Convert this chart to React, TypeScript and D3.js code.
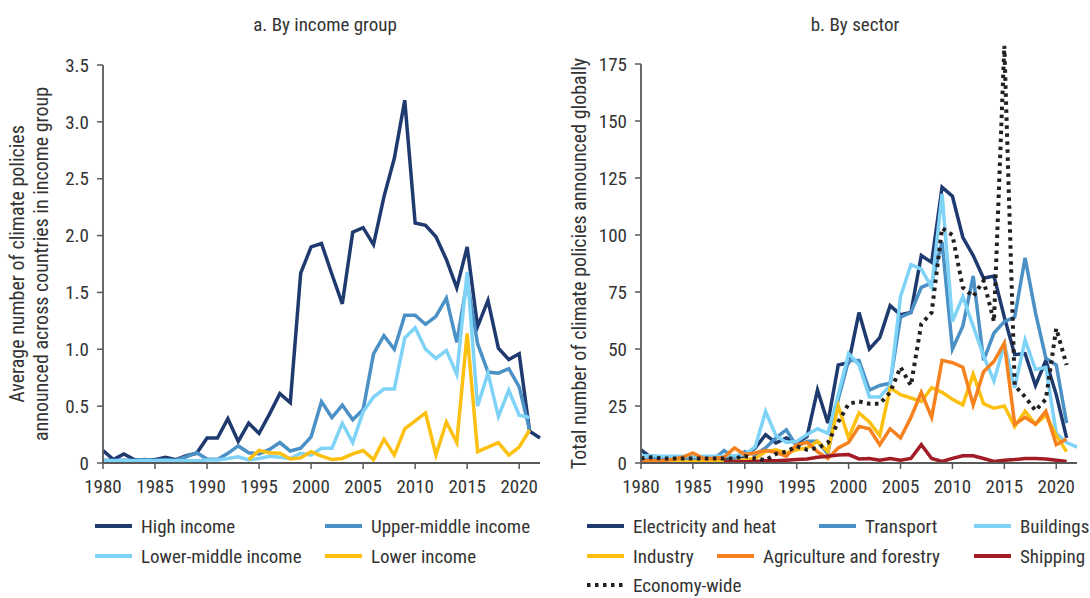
import React from "react";
import * as d3 from "d3";

const years: number[] = d3.range(1980, 2023);
type V = number | null;
const N = null;

// Panel a: income groups (1980-2022)
const highIncome: V[] = [0.11,0.03,0.08,0.03,0.02,0.03,0.05,0.03,0.065,0.085,0.22,0.22,0.39,0.19,0.35,0.26,0.43,0.61,0.53,1.67,1.90,1.93,1.66,1.40,2.03,2.07,1.92,2.34,2.68,3.19,2.11,2.09,1.99,1.79,1.54,1.90,1.20,1.43,1.01,0.91,0.96,0.28,0.22];
const upperMiddle: V[] = [0.025,0.025,0.025,0.025,0.03,0.025,0.03,0.025,0.055,0.09,0.035,0.03,0.085,0.15,0.09,0.08,0.12,0.18,0.105,0.13,0.23,0.54,0.40,0.51,0.38,0.47,0.96,1.12,1.00,1.30,1.30,1.22,1.29,1.45,1.06,1.60,1.05,0.80,0.79,0.83,0.67,0.29,N];
const lowerMiddle: V[] = [0.02,0.02,0.02,0.02,0.02,0.02,0.02,0.02,0.02,0.02,0.026,0.026,0.04,0.055,0.026,0.04,0.06,0.05,0.04,0.085,0.07,0.13,0.13,0.35,0.18,0.45,0.58,0.65,0.65,1.10,1.19,1.00,0.92,0.99,0.78,1.68,0.50,0.79,0.41,0.64,0.42,0.40,N];
const lowerIncome: V[] = [N,N,N,N,N,N,N,N,N,N,N,N,N,N,0.03,0.11,0.09,0.085,0.035,0.045,0.10,0.06,0.03,0.04,0.08,0.11,0.03,0.21,0.07,0.30,0.37,0.44,0.07,0.36,0.18,1.14,0.10,0.14,0.18,0.07,0.14,0.29,N];

// Panel b: sectors (1980-2022)
const electricity: V[] = [5.8,2.2,1.5,1.5,1.5,1.5,1.5,1.5,2,2.5,3,6.6,12.4,8.8,11,8.8,11.7,32,17.5,43,44,66,50,55,69,65,66,91,88,121,117,99,91,81,82,64,47.5,48,34,45,30,11,N];
const transport: V[] = [1.5,1.5,1.5,1.5,1.5,1.5,1.5,1.5,5.5,2,5,3.7,6.6,11,14.6,7.3,9.5,9.5,4,28,45,45,32,34,35,64,66,77,79,97,50,60,82,45,57,62,64,90,66,46,43,17.5,N];
const buildings: V[] = [3.2,3.2,3,3,3,2.8,3,3,3,3.2,3.7,7,22.6,12,9,9.5,12.5,15,13,30,48,43,29,29,34,73,87,85,77,118,62,73,60,47,36,52,33,54,41,42,13,9,7];
const industry: V[] = [0.7,0.7,0.7,0.7,0.7,0.7,0.7,0.7,0.7,0.7,1.5,2,5,5.8,4.4,5.8,6.6,9.5,5,25,11,22,18,12,33,30,28.5,27,33,31,28,25.5,39,26,24,25,16,22.7,17,21,12,5,N];
const agriculture: V[] = [1,1,1,1.5,2.5,4.4,2,2,2.5,6.6,3.7,4.4,5.5,4.7,3,8,9,5,2,6.6,9,16,15,8,15,11,20,31,20,45,44,42,25.5,40,44.6,52.6,17,20,17,22.7,8,10.5,N];
const shipping: V[] = [N,N,N,N,N,N,N,N,0.5,0.7,0.5,0.7,1,1,1.2,1.5,1.8,2.5,3,3.5,3.7,1.8,2,1.2,2,1.2,2,8,2,0.7,2,3.2,3.2,2,0.7,1.2,1.5,2,2,1.8,1.2,0.7,N];
const economyWide: V[] = [2,2.5,2,2,2,2,2,2,2,2,3,2,1.2,4,5,7.3,5.8,6.6,8.8,18,26,27,26,26,31,42,34,61,66,103,100,77,73,80,62,183,34,29,23,28,59,43,N];

const xTicks = [1980, 1985, 1990, 1995, 2000, 2005, 2010, 2015, 2020];
const yTicksA = [0, 0.5, 1, 1.5, 2, 2.5, 3, 3.5];
const yTicksB = [0, 25, 50, 75, 100, 125, 150, 175];

const C = {
  navy: "#1f3a6f",
  mid: "#4b91c6",
  light: "#7fd3f7",
  yellow: "#fdc010",
  orange: "#f5821f",
  red: "#a11c24",
  black: "#231f20",
};

type S = { name: string; values: V[]; color: string; dash?: string };

const seriesA: S[] = [
  { name: "High income", values: highIncome, color: C.navy },
  { name: "Upper-middle income", values: upperMiddle, color: C.mid },
  { name: "Lower-middle income", values: lowerMiddle, color: C.light },
  { name: "Lower income", values: lowerIncome, color: C.yellow },
];

const seriesB: S[] = [
  { name: "Electricity and heat", values: electricity, color: C.navy },
  { name: "Transport", values: transport, color: C.mid },
  { name: "Buildings", values: buildings, color: C.light },
  { name: "Industry", values: industry, color: C.yellow },
  { name: "Agriculture and forestry", values: agriculture, color: C.orange },
  { name: "Shipping", values: shipping, color: C.red },
  { name: "Economy-wide", values: economyWide, color: C.black, dash: "3.5 4.5" },
];

const FONT = "'Roboto Condensed','Liberation Sans Narrow','Arial Narrow',sans-serif";
const TXT = "#333333";
const AX = "#595959";
const FS = 19;

function Panel(props: {
  x0: number; x1: number; y0: number; y1: number; yMax: number; yTicks: number[];
  fmt: (v: number) => string; series: S[];
  title: string; titleX: number; ylabel: string[]; ylabelX: number[];
}) {
  const { x0, x1, y0, y1, yMax, yTicks, fmt, series } = props;
  const x = d3.scaleLinear().domain([1980, 2022]).range([x0, x1]);
  const y = d3.scaleLinear().domain([0, yMax]).range([y1, y0]);
  const line = d3.line<V>()
    .defined((d) => d != null)
    .x((_, i) => x(years[i]))
    .y((d) => y(d as number));
  const midY = (y0 + y1) / 2;
  return (
    <g>
      <text x={props.titleX} y={31} textAnchor="middle" fontSize={FS} fill={TXT}>{props.title}</text>
      {props.ylabel.map((t, i) => (
        <text key={i} transform={`translate(${props.ylabelX[i]},${midY}) rotate(-90)`} textAnchor="middle" dy="0.35em" fontSize={20} fill={TXT}>{t}</text>
      ))}
      {series.map((s) => (
        <path key={s.name} d={line(s.values) || ""} fill="none" stroke={s.color} strokeWidth={s.dash ? 4 : 3.5}
          strokeDasharray={s.dash || undefined} strokeLinejoin="miter" strokeLinecap="butt" />
      ))}
      <line x1={x0} x2={x0} y1={y0} y2={y1} stroke={AX} strokeWidth={1.8} />
      <line x1={x0} x2={x1} y1={y1} y2={y1} stroke={AX} strokeWidth={1.8} />
      {yTicks.map((t) => (
        <g key={t}>
          <line x1={x0 - 6} x2={x0} y1={y(t)} y2={y(t)} stroke={AX} strokeWidth={1.5} />
          <text x={x0 - 14} y={y(t)} dy="0.35em" textAnchor="end" fontSize={FS} fill={TXT}>{fmt(t)}</text>
        </g>
      ))}
      {xTicks.map((t) => (
        <g key={t}>
          <line x1={x(t)} x2={x(t)} y1={y1} y2={y1 + 6} stroke={AX} strokeWidth={1.5} />
          <text x={x(t)} y={y1 + 30} textAnchor="middle" fontSize={FS} fill={TXT}>{t}</text>
        </g>
      ))}
    </g>
  );
}

function Legend(props: { items: S[]; pos: [number, number][] }) {
  return (
    <g>
      {props.items.map((it, i) => {
        const [lx, ly] = props.pos[i];
        return (
          <g key={it.name}>
            <line x1={lx} x2={lx + 37} y1={ly} y2={ly} stroke={it.color} strokeWidth={4}
              strokeDasharray={it.dash || undefined} />
            <text x={lx + 46} y={ly} dy="0.35em" fontSize={FS} fill={TXT}>{it.name}</text>
          </g>
        );
      })}
    </g>
  );
}

export default function App() {
  return (
    <svg width={1090} height={598} style={{ position: "absolute", left: 0, top: 0, background: "#fff" }} fontFamily={FONT}>
      <rect x={0} y={0} width={1090} height={598} fill="#fff" />
      <Panel x0={103} x1={540} y0={65} y1={463} yMax={3.5} yTicks={yTicksA}
        fmt={(v) => (v === 0 ? "0" : d3.format(".1f")(v))} series={seriesA}
        title="a. By income group" titleX={325}
        ylabel={["Average number of climate policies", "announced across countries in income group"]} ylabelX={[17, 41]} />
      <Panel x0={641} x1={1077} y0={64} y1={463} yMax={175} yTicks={yTicksB}
        fmt={(v) => String(v)} series={seriesB}
        title="b. By sector" titleX={855}
        ylabel={["Total number of climate policies announced globally"]} ylabelX={[579]} />
      <Legend items={seriesA} pos={[[95, 526], [325, 526], [95, 556], [325, 556]]} />
      <Legend items={seriesB} pos={[[587, 526], [819, 526], [974, 526], [587, 556], [717, 556], [974, 556], [587, 585]]} />
    </svg>
  );
}
